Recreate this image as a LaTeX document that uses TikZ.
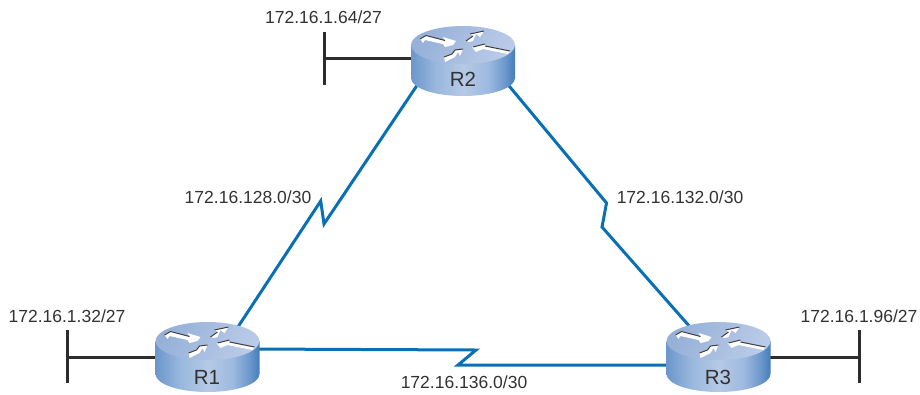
\documentclass[tikz,border=0pt]{standalone}
\usepackage{fontspec}
\setmainfont{Liberation Sans}
\pgfdeclarelayer{links}
\pgfdeclarelayer{art}
\pgfsetlayers{links,art,main}
\definecolor{linkblue}{RGB}{10,112,180}
\definecolor{stubgray}{RGB}{45,45,45}
\definecolor{txtgray}{RGB}{50,50,50}
\definecolor{topL}{RGB}{150,176,216}
\definecolor{topR}{RGB}{186,203,232}
\pgfdeclarehorizontalshading{bodyshade}{100bp}{
  rgb(0bp)=(0.42,0.59,0.80);
  rgb(25bp)=(0.42,0.59,0.80);
  rgb(37bp)=(0.60,0.72,0.87);
  rgb(50bp)=(0.71,0.79,0.90);
  rgb(62bp)=(0.62,0.73,0.88);
  rgb(70bp)=(0.43,0.60,0.80);
  rgb(75bp)=(0.26,0.49,0.74);
  rgb(100bp)=(0.26,0.49,0.74)}
\tikzset{
  link/.style={draw=linkblue,line width=3pt,line join=miter},
  stub/.style={draw=stubgray,line width=3pt},
  netlabel/.style={font=\fontsize{17.5}{20}\selectfont,text=txtgray,inner sep=0pt},
  rlabel/.style={font=\fontsize{20.5}{24}\selectfont,text=txtgray,inner sep=0pt},
  arrowwhite/.style={fill=white,draw=none},
  arrowedge/.style={draw=black!75,line width=1pt,line join=round},
}
\newcommand{\routerart}[1]{%
  \begin{scope}[shift={(#1)}]
    \shade[shading=bodyshade]
      (-52,0) -- (-52,33) .. controls (-52,43) and (-29,51) .. (0,51)
      .. controls (29,51) and (52,43) .. (52,33) -- (52,0) -- cycle;
    \shade[left color=topL,right color=topR,shading angle=60]
      (0,0) ellipse [x radius=52,y radius=19];
    % arrow 1
    \fill[arrowwhite] (-43,-6) -- (-37,-9.5) -- (-18,-4.5) -- (-20,-8) -- (-7,-4) -- (-10,0) -- (-18,2) -- (-20,-1) -- (-38,-5) -- (-40,-2) -- cycle;
    \draw[arrowedge] (-43,-6) -- (-37,-9.5) -- (-18,-4.5);
    % arrow 2
    \fill[arrowwhite] (3,-4) -- (10,-9) -- (7,-11) -- (21,-14) -- (17,-8) -- (13,-11) -- (10,-4) -- (6,-3) -- cycle;
    \draw[arrowedge] (3,-4) -- (10,-9);
    \draw[arrowedge] (7,-11) -- (21,-14);
    % arrow 3
    \fill[arrowwhite] (-19,12) -- (-11,9) -- (-8,5) -- (0,4) -- (-3,11) -- (-5,7) -- (-8,12) -- (-18,17) -- cycle;
    \draw[arrowedge] (-19,12) -- (-11,9) -- (-8,5) -- (0,4);
    % arrow 4
    \fill[arrowwhite] (47,6) -- (22,1) -- (22,-1) -- (9,2) -- (13,7) -- (20,4) -- (45,9) -- cycle;
    \draw[arrowedge] (47,6) -- (22,1);
    \draw[arrowedge] (22,-1) -- (10,2);
  \end{scope}}
\begin{document}
\begin{tikzpicture}[x=1pt,y=-1pt]
\useasboundingbox (0,0) rectangle (920,394);
% routers
\node[rlabel] (R1) at (207,377) {R1};
\node[rlabel] (R2) at (463,79) {R2};
\node[rlabel] (R3) at (718,377) {R3};
\begin{pgfonlayer}{art}
  \routerart{207.5,341}
  \routerart{463,45}
  \routerart{718.5,341}
\end{pgfonlayer}
% network labels
\node[netlabel] (n64) at (323.5,17) {172.16.1.64/27};
\node[netlabel] (n32) at (67,316) {172.16.1.32/27};
\node[netlabel] (n96) at (859,316) {172.16.1.96/27};
\node[netlabel] (n128) at (248,197) {172.16.128.0/30};
\node[netlabel] (n132) at (680,197) {172.16.132.0/30};
\node[netlabel] (n136) at (464,382) {172.16.136.0/30};
% free ends and zigzag points
\coordinate (zaA) at (320.7,201);
\coordinate (zaB) at (324,224);
\coordinate (zbA) at (606.5,203);
\coordinate (zbB) at (602,227);
\coordinate (zcA) at (476,350);
\coordinate (zcB) at (458,365);
\coordinate (t2a) at (324,32);
\coordinate (t2b) at (324,85);
\coordinate (t2m) at (324,58);
\coordinate (t1a) at (67,330);
\coordinate (t1b) at (67,383);
\coordinate (t1m) at (67,357);
\coordinate (t3a) at (859,330);
\coordinate (t3b) at (859,383);
\coordinate (t3m) at (859,357);
\begin{pgfonlayer}{links}
  \draw[link] ([shift={(-39,-4)}]R2.center) -- (zaB) -- (zaA) -- ([shift={(25,-41)}]R1.center);
  \draw[link] ([shift={(37,-4)}]R2.center) -- (zbA) -- (zbB) -- ([shift={(-20,-41)}]R3.center);
  \draw[link] ([shift={(43,-28)}]R1.center) -- (zcA) -- (zcB) -- ([shift={(-38,-12)}]R3.center);
  \draw[stub] (t2a) -- (t2b);
  \draw[stub] (t2m) -- ([shift={(-40,-21)}]R2.center);
  \draw[stub] (t1a) -- (t1b);
  \draw[stub] (t1m) -- ([shift={(-40,-20)}]R1.center);
  \draw[stub] (t3a) -- (t3b);
  \draw[stub] (t3m) -- ([shift={(40,-20)}]R3.center);
\end{pgfonlayer}
\end{tikzpicture}
\end{document}
